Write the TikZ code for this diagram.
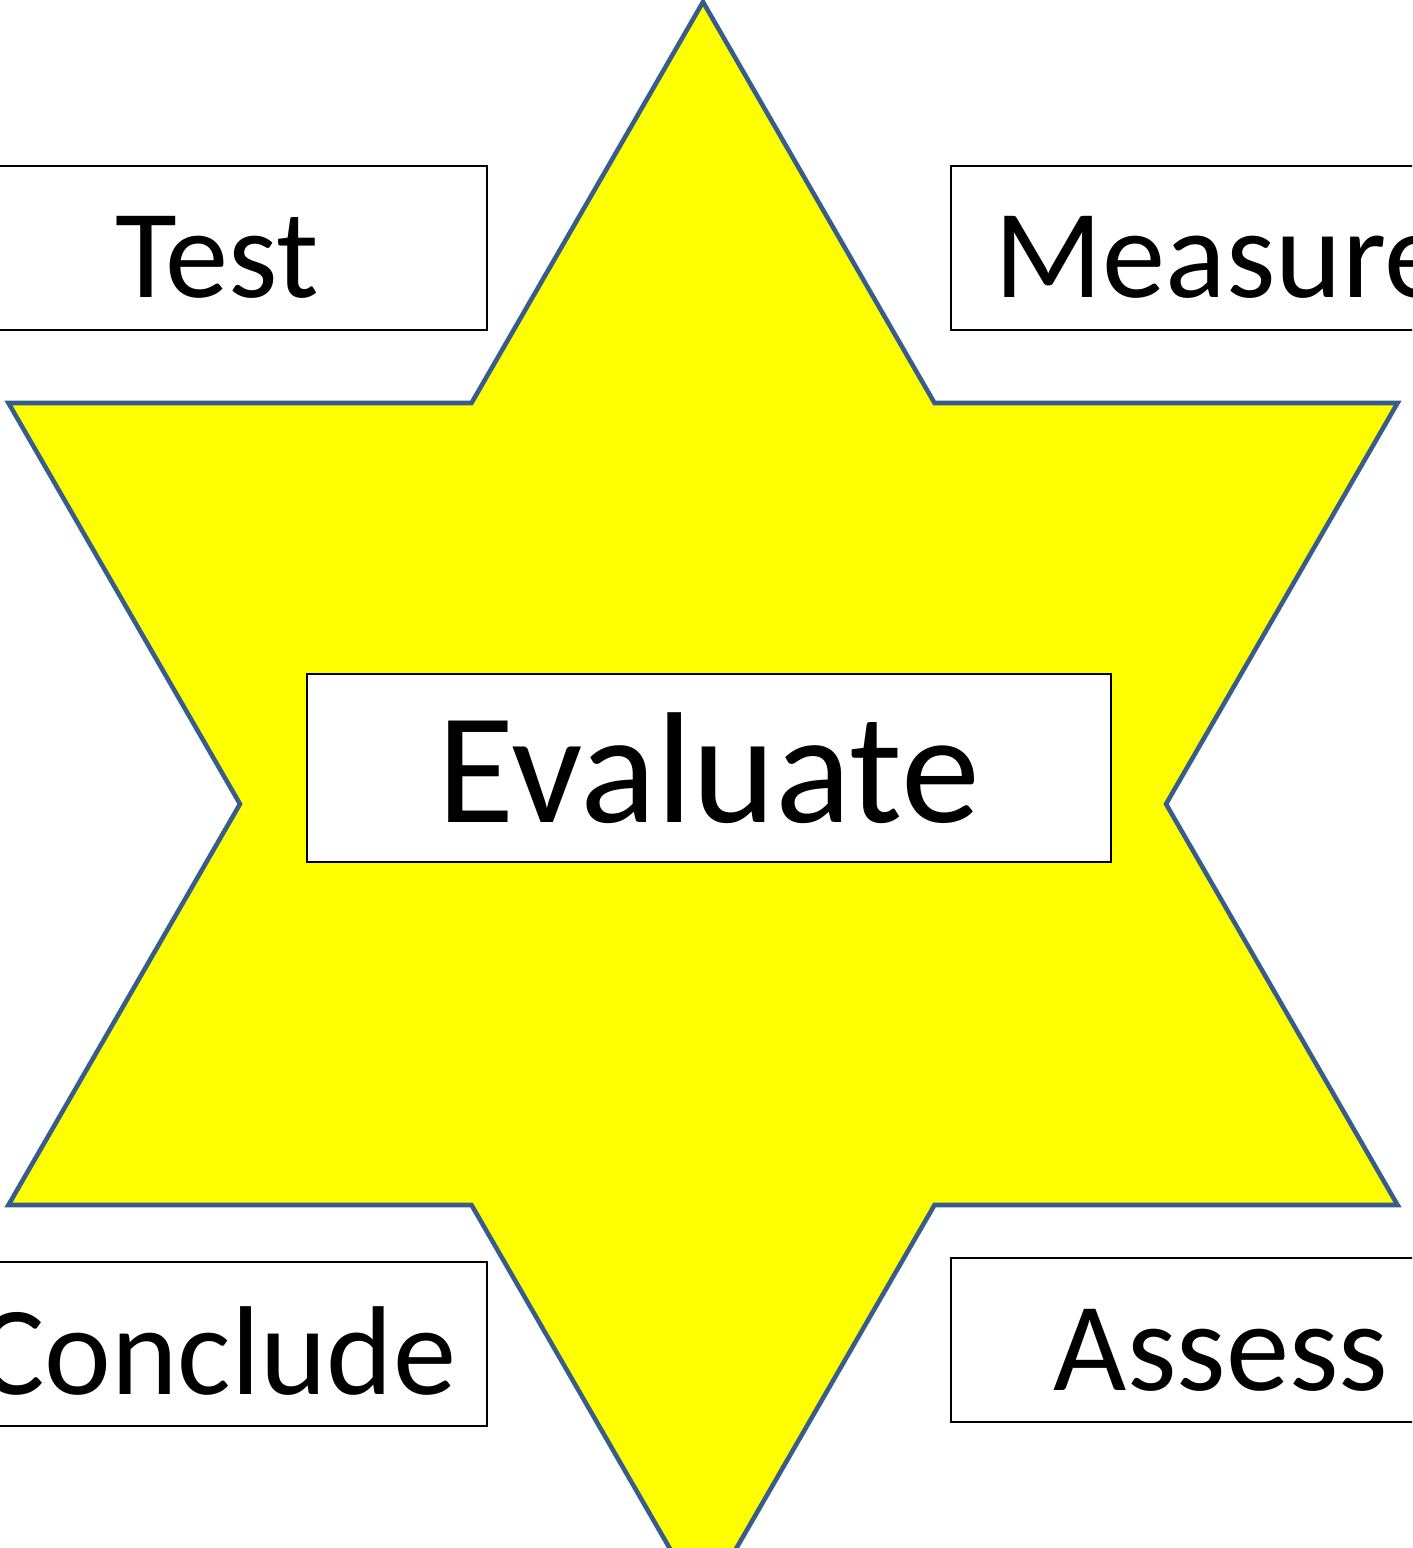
\documentclass[tikz,border=0pt]{standalone}
\usepackage{fontspec}
\setmainfont{Carlito}
\usetikzlibrary{positioning}
\definecolor{starblue}{RGB}{56,93,138}
\definecolor{staryellow}{RGB}{255,255,0}

\begin{document}
\begin{tikzpicture}[
  starline/.style={draw=starblue, line width=1.3pt, fill=staryellow},
  wordbox/.style={draw=black, line width=0.6pt, fill=white, inner sep=0pt,
    minimum width=5.4cm, minimum height=1.64cm, text height=1.2cm, text depth=0.2cm,
    font=\fontsize{36}{40}\selectfont},
  mainbox/.style={draw=black, line width=0.6pt, fill=white, inner sep=0pt,
    minimum width=8.04cm, minimum height=1.88cm, text height=1.28cm, text depth=0.2cm,
    font=\fontsize{45}{50}\selectfont}
]
\useasboundingbox (0,0) rectangle (14.12,-15.48);
\clip (0,0) rectangle (14.12,-15.48);
% Star
\coordinate (star) at (7.03,-8.04);
\begin{scope}[shift={(star)}]
\draw[starline] (90:8.02) -- (60:4.63) -- (30:8.02) -- (0:4.63) -- (-30:8.02) -- (-60:4.63)
  -- (-90:8.02) -- (-120:4.63) -- (-150:8.02) -- (180:4.63) -- (150:8.02) -- (120:4.63) -- cycle;
\end{scope}
% Centre word
\node[mainbox] (evaluate) at (7.09,-7.68) {Evaluate};
% Corner words
\node[wordbox] (test) at (2.17,-2.48) {Test};
\node[wordbox] (measure) at (12.21,-2.48) {Measure};
\node[wordbox] (conclude) at (2.17,-13.44) {Conclude};
\node[wordbox] (assess) at (12.21,-13.40) {Assess};
\end{tikzpicture}
\end{document}
